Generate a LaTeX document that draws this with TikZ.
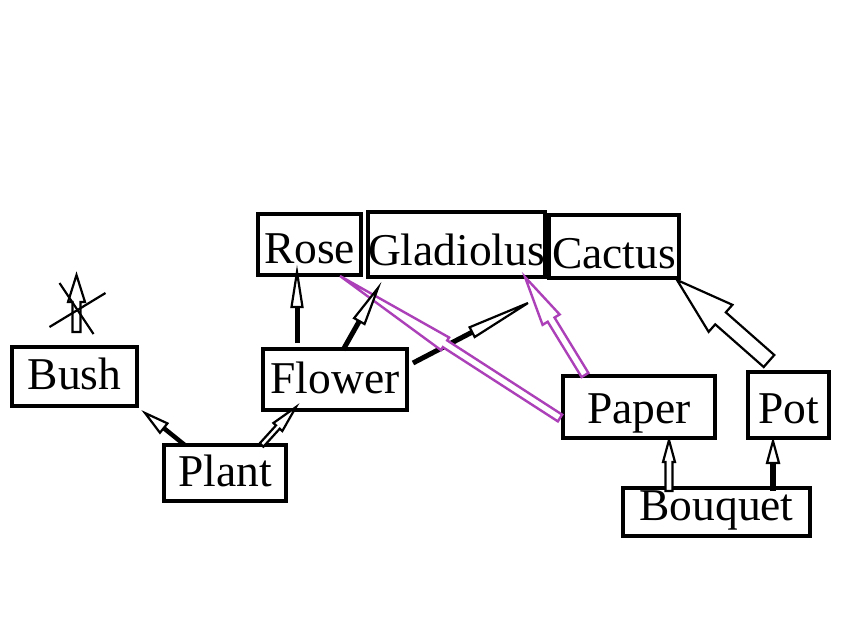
\documentclass[tikz,border=0pt]{standalone}
\usepackage{fontspec}
\setmainfont{Liberation Serif}
\usetikzlibrary{calc}
\definecolor{mag}{RGB}{172,64,184}
% hollow block arrow: style, start, tip, shaft half-width, head half-width, head length
\newcommand\hollowarrow[6]{%
  \draw[#1] ($(#2)!#4!90:(#3)$) -- ($(#3)!#6!(#2)!#4!-90:(#2)$) -- ($(#3)!#6!(#2)!#5!-90:(#2)$) -- (#3)
    -- ($(#3)!#6!(#2)!#5!90:(#2)$) -- ($(#3)!#6!(#2)!#4!90:(#2)$) -- ($(#2)!#4!-90:(#3)$) -- cycle;}
% solid-shaft arrow with hollow head: style, start, tip, shaft width, head half-width, head length
\newcommand\solidarrow[6]{%
  \draw[#1, line width=#4, line cap=butt] (#2) -- ($(#3)!#6!(#2)$);
  \draw[#1] ($(#3)!#6!(#2)!#5!90:(#2)$) -- (#3) -- ($(#3)!#6!(#2)!#5!-90:(#2)$) -- cycle;}
\begin{document}
\begin{tikzpicture}[x=1pt,y=-1pt,
  box/.style={draw, line width=3.2pt, inner sep=0pt, outer sep=0pt, align=center, anchor=north west,
    font=\fontsize{45.5}{50}\selectfont},
  blk/.style={draw=black, fill=white, line width=2.2pt, line join=miter},
  magarr/.style={draw=mag, fill=white, line width=2.4pt, line join=miter}]
\useasboundingbox (0,0) rectangle (844,625);
\fill[white] (0,0) rectangle (844,625);

\node[box, text width=103pt, text height=49pt, text depth=12pt] (rose) at (258,214) {Rose};
\node[box, text width=177pt, text height=53pt, text depth=12pt] (glad) at (368,212) {Gladiolus};
\node[box, text width=130pt, text height=53pt, text depth=10pt] (cactus) at (549,215) {Cactus};
\node[box, text width=125pt, text height=42pt, text depth=17pt] (bush) at (12,347) {Bush};
\node[box, text width=144pt, text height=44pt, text depth=17pt] (flower) at (263,349) {Flower};
\node[box, text width=122pt, text height=41pt, text depth=15pt] (plant) at (164,445) {Plant};
\node[box, text width=152pt, text height=47pt, text depth=15pt] (paper) at (563,376) {Paper};
\node[box, text width=81pt, text height=51pt, text depth=15pt] (pot) at (748,372) {Pot};
\node[box, text width=187pt, text height=32pt, text depth=16pt] (bouquet) at (623,488) {Bouquet};

\coordinate (pb1) at ($(plant.north west)!0.17!(plant.north east)$);
\coordinate (pb2) at ($(bush.south east)+(8,7)$);
\coordinate (pf1) at ($(plant.north west)!0.8!(plant.north east)$);
\coordinate (pf2) at ($(flower.south west)+(33,-3)$);
\coordinate (fr1) at ($(flower.north west)+(34,-6)$);
\coordinate (fr2) at ($(rose.south west)+(39,-3)$);
\coordinate (fg1) at ($(flower.north west)+(80,1)$);
\coordinate (fg2) at ($(glad.south west)+(10,11)$);
\coordinate (fx1) at ($(flower.north east)+(6,14)$);
\coordinate (fx2) at ($(glad.south east)+(-17,26)$);
\coordinate (pr1) at ($(paper.south west)+(-3,-20)$);
\coordinate (pr2) at ($(rose.south east)+(-21,1)$);
\coordinate (pg1) at ($(paper.north west)+(22,-1)$);
\coordinate (pg2) at ($(glad.south east)+(-20,0)$);
\coordinate (pc1) at ($(pot.north west)+(21,-11)$);
\coordinate (pc2) at ($(cactus.south east)+(-2,2)$);
\coordinate (bp1) at ($(bouquet.north west)+(46,3)$);
\coordinate (bp2) at ($(paper.south west)+(106,2)$);
\coordinate (bo1) at ($(bouquet.north west)+(150,3)$);
\coordinate (bo2) at ($(pot.south west)+(25,3)$);
\coordinate (x1) at ($(bush.north)+(2,-15)$);
\coordinate (x2) at ($(bush.north)+(2,-72)$);
\coordinate (c1) at ($(bush.north)+(-15,-64)$);
\coordinate (c2) at ($(bush.north)+(19,-13)$);
\coordinate (c3) at ($(bush.north)+(-25,-20)$);
\coordinate (c4) at ($(bush.north)+(31,-54)$);

\solidarrow{blk}{pb1}{pb2}{4.5pt}{6pt}{24pt}
\hollowarrow{blk}{pf1}{pf2}{2.5pt}{6pt}{27pt}
\solidarrow{blk}{fr1}{fr2}{5pt}{5.5pt}{35pt}
\solidarrow{blk}{fx1}{fx2}{5pt}{5.5pt}{63pt}
\hollowarrow{magarr}{pr1}{pr2}{4pt}{7.5pt}{125pt}
\hollowarrow{magarr}{pg1}{pg2}{4pt}{10pt}{50pt}
\solidarrow{blk}{fg1}{fg2}{5pt}{6pt}{38pt}
\hollowarrow{blk}{pc1}{pc2}{8pt}{18pt}{58pt}
\hollowarrow{blk}{bp1}{bp2}{3.5pt}{6pt}{22pt}
\solidarrow{blk}{bo1}{bo2}{6pt}{6pt}{22pt}
\hollowarrow{blk}{x1}{x2}{4pt}{8.5pt}{27pt}
\draw[line width=2.2pt] (c1) -- (c2);
\draw[line width=2.2pt] (c3) -- (c4);
\end{tikzpicture}
\end{document}
